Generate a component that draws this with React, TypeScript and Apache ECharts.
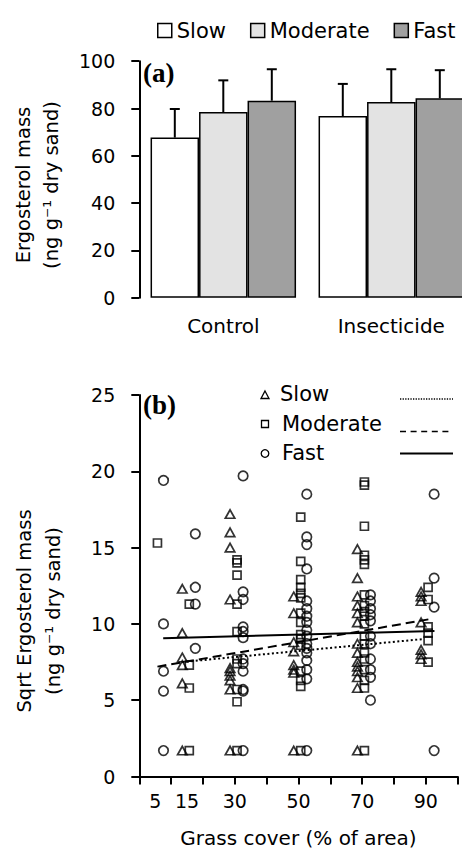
import React, { useEffect, useRef } from "react";
import * as echarts from "echarts";

// ---------- Panel (a) data ----------
const treatments = ["Control", "Insecticide"];
const speeds = ["Slow", "Moderate", "Fast"];
const slowMean = [67.7, 76.8];
const slowSE = [12.1, 13.6];
const moderateMean = [78.5, 82.7];
const moderateSE = [13.4, 13.9];
const fastMean = [83.3, 84.3];
const fastSE = [13.3, 11.9];
const massTicks = { min: 0, max: 100, step: 20 };

// ---------- Panel (b) data ----------
const grassLevels = [5, 15, 30, 50, 70, 90];
const grassTickLabels = [5, 15, 30, 50, 70, 90];
const grassTicks = [0, 10, 20, 30, 40, 50, 60, 70, 80, 90, 100];
const sqrtTicks = { min: 0, max: 25, step: 5 };

const slowPoints = [
  [],
  [12.3, 9.4, 7.8, 7.3, 6.1, 1.7],
  [17.2, 16.0, 15.0, 11.6, 7.1, 6.9, 6.6, 6.3, 5.7, 1.7],
  [11.8, 10.7, 8.8, 8.2, 7.3, 7.0, 6.8, 1.7],
  [14.9, 13.0, 11.8, 11.2, 10.7, 10.1, 8.7, 8.1, 7.5, 7.2, 6.9, 6.5, 5.8, 1.7],
  [12.1, 11.8, 11.5, 10.1, 8.3, 8.0, 7.7],
];
const moderatePoints = [
  [15.3],
  [11.3, 7.3, 5.8, 1.7],
  [14.2, 14.0, 13.2, 11.3, 9.5, 7.7, 7.4, 5.7, 4.9, 1.7],
  [17.0, 14.1, 12.9, 12.4, 12.0, 11.7, 10.7, 10.1, 9.3, 9.0, 8.6, 6.9, 6.3, 5.9, 1.7],
  [19.3, 19.1, 16.4, 14.5, 14.2, 13.9, 11.9, 11.2, 10.8, 10.5, 10.0, 9.2, 8.7, 8.1, 7.7, 7.0, 6.3, 5.8, 1.7],
  [12.4, 11.6, 9.8, 9.4, 8.9, 7.5],
];
const fastPoints = [
  [19.4, 10.0, 6.9, 5.6, 1.7],
  [15.9, 12.4, 11.3, 8.4],
  [19.7, 12.1, 11.6, 9.8, 9.5, 9.1, 7.7, 7.4, 6.9, 5.7, 5.6, 1.7],
  [18.5, 15.7, 15.2, 13.6, 11.5, 11.0, 10.5, 10.1, 9.6, 9.2, 8.7, 8.4, 8.1, 7.6, 7.0, 6.4, 1.7],
  [11.9, 11.5, 11.0, 10.6, 10.2, 9.2, 8.7, 7.7, 7.0, 6.5, 5.0],
  [18.5, 13.0, 11.1, 1.7],
];

// trend line end points
const slowTrend = [[13.5, 7.5], [88.8, 9.0]];
const moderateTrend = [[5.7, 7.2], [90.9, 10.3]];
const fastTrend = [[7.5, 9.06], [92.7, 9.53]];

// ---------- styling ----------
const FONT = "DejaVu Sans";
const SERIF = "Liberation Serif";
const BLACK = "#000";
const barColors = ["#ffffff", "#e3e3e3", "#a0a0a0"];
const BAR_W = 48.5;
const jitter = [-1.5, 0.7, 2.6];

function toXY(values: number[][], off: number) {
  const out: number[][] = [];
  values.forEach((vals, i) => {
    vals.forEach((v) => out.push([grassLevels[i] + off, v]));
  });
  return out;
}

function errorSeries(name: string, mean: number[], se: number[], offset: number) {
  return {
    type: "custom",
    name,
    xAxisIndex: 0,
    yAxisIndex: 0,
    z: 5,
    encode: { x: 0, y: [1, 2] },
    data: mean.map((m, i) => [i, m, m + se[i]]),
    renderItem: (params: any, api: any) => {
      const base = api.coord([api.value(0), api.value(1)]);
      const top = api.coord([api.value(0), api.value(2)]);
      const x = base[0] + offset;
      const st = { stroke: BLACK, lineWidth: 2 };
      return {
        type: "group",
        children: [
          { type: "line", shape: { x1: x, y1: base[1], x2: x, y2: top[1] }, style: st },
          { type: "line", shape: { x1: x - 5, y1: top[1], x2: x + 5, y2: top[1] }, style: st },
        ],
      };
    },
  };
}

const axisLineStyle = { color: BLACK, width: 2 };

export default function App() {
  const ref = useRef<HTMLDivElement>(null);

  useEffect(() => {
    if (!ref.current) return;
    const chart = echarts.init(ref.current, null, { renderer: "svg" });

    const means = [slowMean, moderateMean, fastMean];
    const ses = [slowSE, moderateSE, fastSE];
    const points = [slowPoints, moderatePoints, fastPoints];
    const trends = [slowTrend, moderateTrend, fastTrend];
    const symbols = ["triangle", "rect", "circle"];
    const symbolSizes: any[] = [[9.5, 8.5], 8, 9.5];
    const lineTypes: any[] = [[2, 2.5], [9, 5], "solid"];

    const option: any = {
      animation: false,
      backgroundColor: "#fff",
      legend: {
        data: speeds,
        left: 152,
        top: 15,
        itemWidth: 14,
        itemHeight: 14,
        itemGap: 24,
        icon: "rect",
        selectedMode: false,
        textStyle: { fontFamily: FONT, fontSize: 21, color: BLACK },
        itemStyle: { borderColor: BLACK, borderWidth: 1.5 },
      },
      grid: [
        { left: 139.3, top: 61.2, width: 336, height: 236.5, outerBoundsMode: "none" },
        { left: 139.3, top: 395, width: 318.4, height: 381.5, outerBoundsMode: "none" },
      ],
      xAxis: [
        {
          type: "category",
          gridIndex: 0,
          data: treatments,
          axisLine: { show: false },
          axisTick: { show: false },
          axisLabel: { fontFamily: FONT, fontSize: 20, color: BLACK, margin: 18 },
        },
        {
          type: "value",
          gridIndex: 1,
          min: 0,
          max: 100,
          interval: 10,
          axisLine: { show: true, onZero: false, lineStyle: axisLineStyle },
          axisTick: { show: true, length: 8, lineStyle: axisLineStyle, customValues: grassTicks },
          axisLabel: { fontFamily: FONT, fontSize: 19, color: BLACK, margin: 15, customValues: grassTickLabels },
          splitLine: { show: false },
          name: "Grass cover (% of area)",
          nameLocation: "middle",
          nameGap: 51,
          nameTextStyle: { fontFamily: FONT, fontSize: 20, color: BLACK },
        },
      ],
      yAxis: [
        {
          type: "value",
          gridIndex: 0,
          min: massTicks.min,
          max: massTicks.max,
          interval: massTicks.step,
          axisLine: { show: true, lineStyle: axisLineStyle },
          axisTick: { show: true, length: 8, lineStyle: axisLineStyle },
          axisLabel: { fontFamily: FONT, fontSize: 19, color: BLACK, margin: 24 },
          splitLine: { show: false },
        },
        {
          type: "value",
          gridIndex: 1,
          min: sqrtTicks.min,
          max: sqrtTicks.max,
          interval: sqrtTicks.step,
          axisLine: { show: true, lineStyle: axisLineStyle },
          axisTick: { show: true, length: 8, lineStyle: axisLineStyle },
          axisLabel: { fontFamily: FONT, fontSize: 19, color: BLACK, margin: 24 },
          splitLine: { show: false },
        },
      ],
      series: [
        ...speeds.map((s, i) => ({
          type: "bar",
          name: s,
          xAxisIndex: 0,
          yAxisIndex: 0,
          data: means[i],
          barWidth: BAR_W,
          barGap: "0%",
          itemStyle: { color: barColors[i], borderColor: BLACK, borderWidth: 1.5 },
        })),
        ...speeds.map((s, i) => errorSeries(s + " SE", means[i], ses[i], (i - 1) * BAR_W)),
        ...speeds.map((s, i) => ({
          type: "scatter",
          name: s + " points",
          xAxisIndex: 1,
          yAxisIndex: 1,
          symbol: symbols[i],
          symbolSize: symbolSizes[i],
          itemStyle: { color: "transparent", borderColor: BLACK, borderWidth: 1.7 },
          data: toXY(points[i], jitter[i]),
        })),
        ...speeds.map((s, i) => ({
          type: "line",
          name: s + " trend",
          xAxisIndex: 1,
          yAxisIndex: 1,
          symbol: "none",
          z: 4,
          lineStyle: { color: BLACK, width: 2, type: lineTypes[i] },
          data: trends[i],
        })),
      ],
      graphic: [
        { type: "text", x: 143, y: 73, style: { text: "(a)", font: `bold 27px "${SERIF}"`, fill: BLACK, verticalAlign: "middle" } },
        { type: "text", x: 143, y: 405, style: { text: "(b)", font: `bold 27px "${SERIF}"`, fill: BLACK, verticalAlign: "middle" } },
        {
          type: "text",
          x: 37,
          y: 185,
          rotation: Math.PI / 2,
          style: {
            text: "Ergosterol mass\n(ng g⁻¹ dry sand)",
            font: `19.5px "${FONT}"`,
            lineHeight: 28,
            fill: BLACK,
            align: "center",
            verticalAlign: "middle",
          },
        },
        {
          type: "text",
          x: 39,
          y: 611,
          rotation: Math.PI / 2,
          style: {
            text: "Sqrt Ergosterol mass\n(ng g⁻¹ dry sand)",
            font: `19.5px "${FONT}"`,
            lineHeight: 29,
            fill: BLACK,
            align: "center",
            verticalAlign: "middle",
          },
        },
        // legend of panel (b)
        { type: "polygon", shape: { points: [[265, 391], [269, 398.5], [261, 398.5]] }, style: { fill: "none", stroke: BLACK, lineWidth: 1.3 } },
        { type: "rect", shape: { x: 261.5, y: 420.5, width: 7, height: 7 }, style: { fill: "none", stroke: BLACK, lineWidth: 1.3 } },
        { type: "circle", shape: { cx: 265, cy: 453.5, r: 3.8 }, style: { fill: "none", stroke: BLACK, lineWidth: 1.3 } },
        { type: "text", x: 280, y: 394, style: { text: "Slow", font: `21px "${FONT}"`, fill: BLACK, verticalAlign: "middle" } },
        { type: "text", x: 282, y: 424, style: { text: "Moderate", font: `21px "${FONT}"`, fill: BLACK, verticalAlign: "middle" } },
        { type: "text", x: 282, y: 453, style: { text: "Fast", font: `21px "${FONT}"`, fill: BLACK, verticalAlign: "middle" } },
        { type: "line", shape: { x1: 400, y1: 399, x2: 453, y2: 399 }, style: { stroke: BLACK, lineWidth: 1.3, lineDash: [1.3, 1.3] } },
        { type: "line", shape: { x1: 400, y1: 431.5, x2: 453, y2: 431.5 }, style: { stroke: BLACK, lineWidth: 1.5, lineDash: [6, 4.6] } },
        { type: "line", shape: { x1: 400, y1: 453.5, x2: 453, y2: 453.5 }, style: { stroke: BLACK, lineWidth: 2 } },
      ],
    };

    chart.setOption(option);
    return () => chart.dispose();
  }, []);

  return (
    <div
      ref={ref}
      style={{ position: "fixed", left: 0, top: 0, width: 462, height: 852, background: "#fff" }}
    />
  );
}
